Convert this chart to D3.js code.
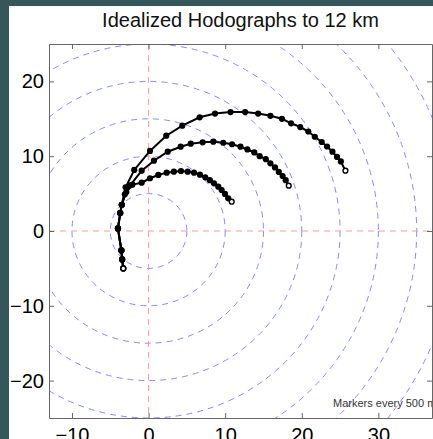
<!DOCTYPE html>
<html>
<head>
<meta charset="utf-8">
<script src="https://cdn.jsdelivr.net/npm/d3@7"></script>
<style>
  body { margin: 0; background: #355759; }
  svg { display: block; font-family: "Liberation Sans", Arial, sans-serif; }
</style>
</head>
<body>
<svg id="chart" width="433" height="439"></svg>
<script>
// wind components (u, v) in m/s, one marker every 500 m
var lowLevel = [[-3.3,-5.0],[-3.45,-3.8],[-3.55,-2.6],[-4.0,0.35],[-3.7,2.4],[-3.5,3.5]]
var hodoSmall = [[-2.9,5.2],[-2.1,6.2],[-0.9,6.46],[0.18,7.05],[1.27,7.49],[2.36,7.8],[3.3,7.93],[4.23,8.02],[5.1,7.93],[5.93,7.8],[6.7,7.53],[7.4,7.18],[8.0,6.8],[8.54,6.38],[9.1,5.92],[9.54,5.48],[9.97,4.95],[10.4,4.37],[10.85,3.92]]
var hodoMedium = [[-3.1,4.9],[-2.4,6.1],[-0.9,8.06],[0.7,9.4],[2.5,10.6],[4.19,11.27],[5.5,11.67],[7.06,11.86],[8.45,11.94],[9.75,11.8],[10.9,11.6],[12.0,11.27],[12.9,10.9],[13.8,10.5],[14.5,10.0],[15.3,9.6],[15.9,9.05],[16.5,8.5],[17.0,7.9],[17.5,7.35],[17.9,6.8],[18.3,6.06]]
var hodoLarge = [[-3.0,5.84],[-1.87,8.16],[0.18,10.7],[2.31,12.74],[4.4,14.08],[6.67,15.2],[8.67,15.7],[10.7,15.9],[12.6,15.9],[14.3,15.7],[15.9,15.4],[17.4,15.0],[18.6,14.4],[19.8,13.9],[20.85,13.3],[21.7,12.6],[22.6,11.9],[23.3,11.3],[24.0,10.6],[24.6,9.9],[25.1,9.3],[25.7,8.06]]
var ringRadii = [5,10,15,20,25,30,35,40,45]
var xTicks = [-10,0,10,20,30]
var yTicks = [-20,-10,0,10,20]

var svg = d3.select('#chart')
var padL = 49, padR = 432, padT = 44, padB = 418

var x = d3.scaleLinear().domain([-13,37]).range([padL,padR])
var y = d3.scaleLinear().domain([-25,25]).range([padB,padT])

// figure panel
svg.append('rect').attr('x',9).attr('y',6).attr('width',430).attr('height',440).attr('fill','white')

svg.append('text')
  .attr('x',(padL+padR)/2).attr('y',27)
  .attr('text-anchor','middle')
  .attr('font-size',20)
  .attr('fill','#111')
  .text('Idealized Hodographs to 12 km')

svg.append('clipPath').attr('id','clip')
  .append('rect').attr('x',padL).attr('y',padT).attr('width',padR-padL).attr('height',padB-padT)

var plot = svg.append('g').attr('clip-path','url(#clip)')

// range rings
plot.selectAll('ellipse').data(ringRadii).enter().append('ellipse')
  .attr('cx',x(0)).attr('cy',y(0))
  .attr('rx',d=>x(d)-x(0)).attr('ry',d=>y(0)-y(d))
  .attr('fill','none')
  .attr('stroke','#7a7aff')
  .attr('stroke-width',0.9)
  .attr('stroke-dasharray','6,5')

// zero lines
plot.append('line').attr('x1',x(0)).attr('x2',x(0)).attr('y1',padT).attr('y2',padB)
  .attr('stroke','#ff9a9a').attr('stroke-dasharray','6,5')
plot.append('line').attr('x1',padL).attr('x2',padR).attr('y1',y(0)).attr('y2',y(0))
  .attr('stroke','#ff9a9a').attr('stroke-dasharray','6,5')

// hodographs
var line = d3.line().x(d=>x(d[0])).y(d=>y(d[1]))
var curves = [hodoSmall, hodoMedium, hodoLarge].map(c=>lowLevel.concat(c))

curves.forEach(c => {
  plot.append('path').datum(c)
    .attr('d',line)
    .attr('fill','none')
    .attr('stroke','black')
    .attr('stroke-width',2)

  plot.append('g').selectAll('circle').data(c).enter().append('circle')
    .attr('cx',d=>x(d[0])).attr('cy',d=>y(d[1]))
    .attr('r',(d,i)=>(i==0||i==c.length-1) ? 2.4 : 3.1)
    .attr('fill',(d,i)=>(i==0||i==c.length-1) ? 'white' : 'black')
    .attr('stroke','black')
    .attr('stroke-width',(d,i)=>(i==0||i==c.length-1) ? 1.4 : 0)
})

svg.append('text')
  .attr('x',333).attr('y',407)
  .attr('font-size',11)
  .attr('fill','#333')
  .text('Markers every 500 m')

// axes, inward ticks on all sides
var fmt = d => d<0 ? '\u2212'+Math.abs(d) : ''+d
var axB = svg.append('g').attr('transform',`translate(0,${padB})`)
  .call(d3.axisBottom(x).tickValues(xTicks).tickSizeInner(-5).tickSizeOuter(0).tickPadding(10).tickFormat(fmt))
var axT = svg.append('g').attr('transform',`translate(0,${padT})`)
  .call(d3.axisTop(x).tickValues(xTicks).tickSizeInner(-5).tickSizeOuter(0).tickFormat(''))
var axL = svg.append('g').attr('transform',`translate(${padL},0)`)
  .call(d3.axisLeft(y).tickValues(yTicks).tickSizeInner(-5).tickSizeOuter(0).tickPadding(5).tickFormat(fmt))
var axR = svg.append('g').attr('transform',`translate(${padR},0)`)
  .call(d3.axisRight(y).tickValues(yTicks).tickSizeInner(-5).tickSizeOuter(0).tickFormat(''))

;[axB,axT,axL,axR].forEach(a => {
  a.selectAll('path').attr('stroke','#666')
  a.selectAll('line').attr('stroke','#666')
  a.selectAll('text').attr('font-size',20).attr('fill','#000').attr('font-family','"Liberation Sans", Arial, sans-serif')
})
</script>
</body>
</html>
